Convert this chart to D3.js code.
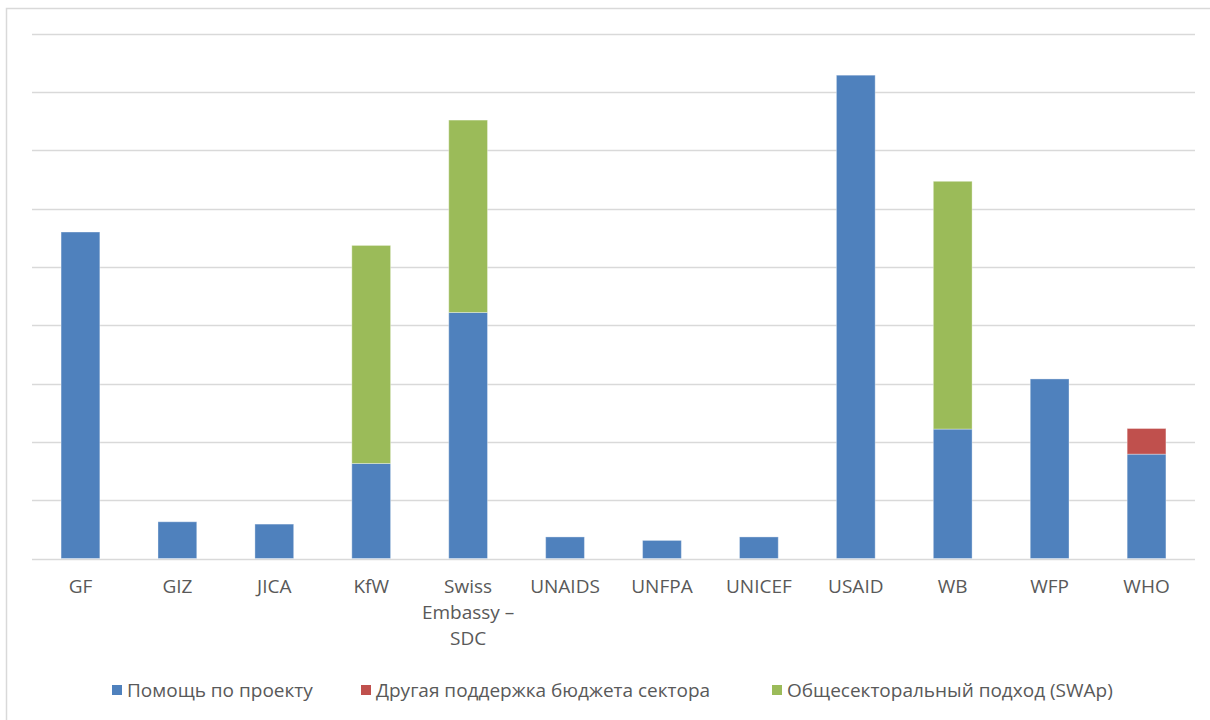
<!DOCTYPE html>
<html>
<head>
<meta charset="utf-8">
<script src="https://cdn.jsdelivr.net/npm/d3@7"></script>
<style>
  html, body { margin: 0; padding: 0; background: #fff; }
  svg { display: block; }
  text { font-family: "Open Sans", "Noto Sans", sans-serif; fill: #595959; }
</style>
</head>
<body>
<svg id="chart" width="1210" height="720"></svg>
<script>
const categories = ["GF", "GIZ", "JICA", "KfW", "Swiss Embassy \u2013 SDC", "UNAIDS", "UNFPA", "UNICEF", "USAID", "WB", "WFP", "WHO"];
const seriesNames = ["Помощь по проекту", "Другая поддержка бюджета сектора", "Общесекторальный подход (SWAp)"];
const projectAid   = [5.60, 0.63, 0.59, 1.63, 4.22, 0.37, 0.31, 0.37, 8.29, 2.22, 3.08, 1.79];
const otherBudget  = [0, 0, 0, 0, 0, 0, 0, 0, 0, 0, 0, 0.44];
const swap         = [0, 0, 0, 3.74, 3.30, 0, 0, 0, 0, 4.25, 0, 0];
const gridTicks = [0, 1, 2, 3, 4, 5, 6, 7, 8, 9];
const colors = ["#4F81BD", "#C0504D", "#9BBB59"];

(function () {
const svg = d3.select("#chart");

// outer frame
svg.append("rect")
  .attr("x", 6.5).attr("y", 8.5)
  .attr("width", 1230).attr("height", 730)
  .attr("fill", "none").attr("stroke", "#d9d9d9").attr("stroke-width", 1.5);

const plotLeft = 32, plotRight = 1195, plotBottom = 558.5, plotTop = 33.8;

const x = d3.scaleBand().domain(categories).range([plotLeft, plotRight]).paddingInner(0.6).paddingOuter(0.3);
const y = d3.scaleLinear().domain([0, 9]).range([plotBottom, plotTop]);

// gridlines
svg.append("g")
  .selectAll("line")
  .data(gridTicks)
  .join("line")
  .attr("x1", plotLeft).attr("x2", plotRight)
  .attr("y1", d => Math.round(y(d)) + 0.5).attr("y2", d => Math.round(y(d)) + 0.5)
  .attr("stroke", "#d9d9d9").attr("stroke-width", 1.3);

// stack
const table = categories.map((c, i) => ({ cat: c, s0: projectAid[i], s1: otherBudget[i], s2: swap[i] }));
const stack = d3.stack().keys(["s0", "s1", "s2"])(table);

svg.append("g")
  .selectAll("g")
  .data(stack)
  .join("g")
  .attr("fill", (d, i) => colors[i])
  .selectAll("rect")
  .data(d => d.filter(p => p[1] - p[0] > 0))
  .join("rect")
  .attr("x", d => x(d.data.cat))
  .attr("width", x.bandwidth())
  .attr("y", d => y(d[1]))
  .attr("height", d => y(d[0]) - y(d[1]))
  .attr("stroke", "#ffffff").attr("stroke-opacity", 0.35).attr("stroke-width", 1);

// x labels with wrapping
const labelG = svg.append("g");
categories.forEach(c => {
  const cx = x(c) + x.bandwidth() / 2;
  const t = labelG.append("text")
    .attr("x", cx)
    .attr("y", 593)
    .attr("text-anchor", "middle")
    .attr("font-size", 19);
  const words = c.split(" ");
  let line = [];
  let tspan = t.append("tspan").attr("x", cx).attr("dy", 0);
  words.forEach(w => {
    line.push(w);
    tspan.text(line.join(" "));
    if (tspan.node().getComputedTextLength() > x.step() - 2 && line.length > 1) {
      line.pop();
      tspan.text(line.join(" "));
      line = [w];
      tspan = t.append("tspan").attr("x", cx).attr("dy", 26).text(w);
    }
  });
});

// legend
const legendX = [112, 361, 772];
const lg = svg.append("g");
seriesNames.forEach((n, i) => {
  lg.append("rect").attr("x", legendX[i]).attr("y", 685).attr("width", 10).attr("height", 10).attr("fill", colors[i]);
  lg.append("text").attr("x", legendX[i] + 15).attr("y", 697).attr("font-size", 19).text(n);
});
})();
</script>
</body>
</html>
